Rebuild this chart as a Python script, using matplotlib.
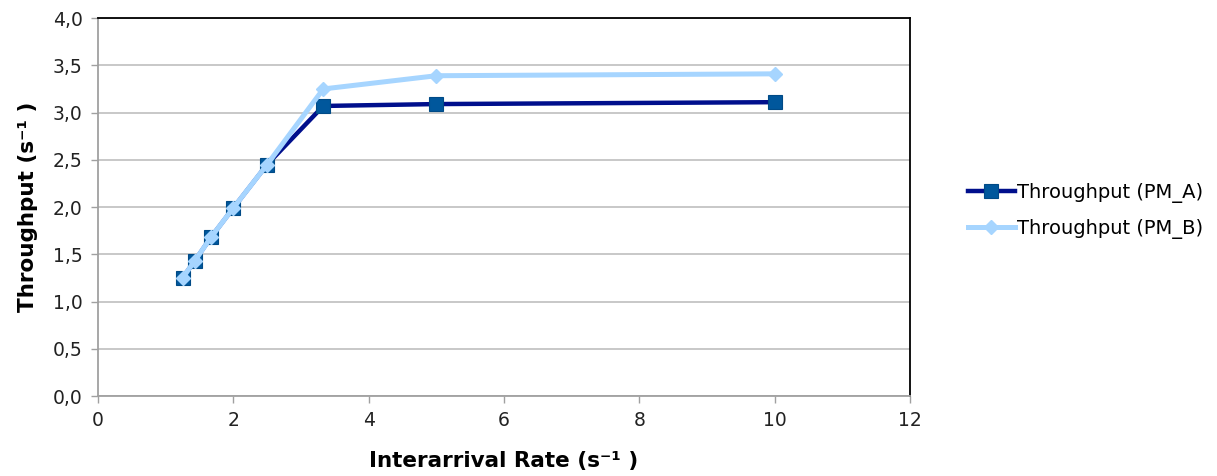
import matplotlib
matplotlib.use("Agg")
import matplotlib.pyplot as plt
from matplotlib.ticker import FuncFormatter

# Data
RATE = [1.25, 1.43, 1.67, 2.0, 2.5, 3.33, 5.0, 10.0]
THROUGHPUT_A = [1.25, 1.43, 1.68, 1.99, 2.45, 3.07, 3.09, 3.11]
THROUGHPUT_B = [1.25, 1.43, 1.68, 1.99, 2.45, 3.25, 3.39, 3.41]
LABELS = ["Throughput (PM_A)", "Throughput (PM_B)"]

TICK_FONTSIZE = 13.5
LABEL_FONTSIZE = 15.5
LEGEND_FONTSIZE = 14
GRID_COLOR = "#c4c4c4"

fig = plt.figure(figsize=(12.17, 4.76), dpi=100)
ax = fig.add_axes([0.0805, 0.168, 0.6672, 0.794])

ax.plot(RATE, THROUGHPUT_A, color="#000f8c", linewidth=3.2, marker="s",
        markersize=9.5, markerfacecolor="#00579c", markeredgecolor="#004a86",
        markeredgewidth=0.8, label=LABELS[0], zorder=3)
ax.plot(RATE, THROUGHPUT_B, color="#a6d5ff", linewidth=3.6, marker="D",
        markersize=7.5, markerfacecolor="#a6d5ff", markeredgecolor="#a6d5ff",
        label=LABELS[1], zorder=4)

ax.set_xlim(0, 12)
ax.set_ylim(0, 4)
ax.set_xticks(range(0, 13, 2))
ax.set_yticks([i * 0.5 for i in range(9)])
ax.yaxis.set_major_formatter(FuncFormatter(lambda v, p: f"{v:.1f}".replace(".", ",")))

ax.grid(True, axis="y", color=GRID_COLOR, linewidth=1.3)
ax.set_axisbelow(True)

for side in ["left", "bottom"]:
    ax.spines[side].set_color("#a0a0a0")
    ax.spines[side].set_linewidth(1.3)
for side in ["top", "right"]:
    ax.spines[side].set_color("black")
    ax.spines[side].set_linewidth(1.3)

ax.tick_params(axis="both", direction="out", length=5, width=1, color="#a0a0a0",
               labelsize=TICK_FONTSIZE, labelcolor="#222222", pad=6)

ax.set_xlabel("Interarrival Rate (s\u207b\u00b9 )", fontsize=LABEL_FONTSIZE,
              fontweight="bold", labelpad=15)
ax.set_ylabel("Throughput (s\u207b\u00b9 )", fontsize=LABEL_FONTSIZE,
              fontweight="bold", labelpad=11)

fig.legend(loc="center left", bbox_to_anchor=(0.781, 0.557), frameon=False,
           fontsize=LEGEND_FONTSIZE, handlelength=2.4, handletextpad=0.1,
           labelspacing=0.85)

fig.savefig("out.png", dpi=100)
plt.close(fig)
